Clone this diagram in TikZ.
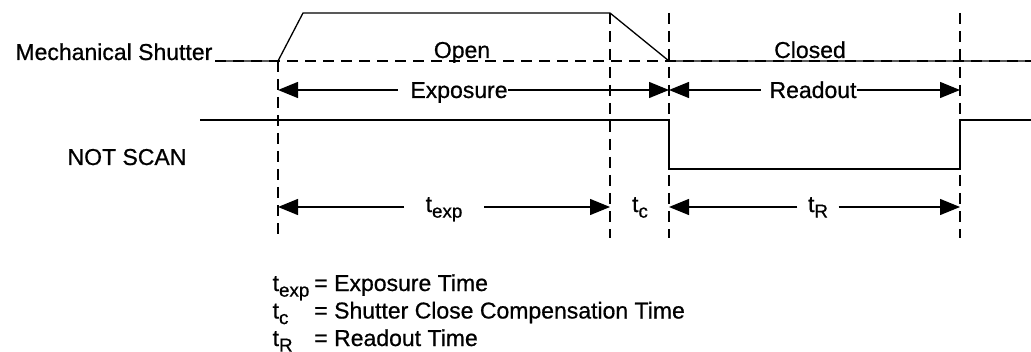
\documentclass[tikz,border=0pt]{standalone}
\usepackage{fontspec}
\setmainfont{Liberation Sans}
\newfontfamily\heavy[FakeBold=0.7]{Liberation Sans}
\usetikzlibrary{arrows.meta}
\newcommand\tsub[2]{#1\raisebox{-2.8pt}[0pt][0pt]{\fontsize{9.4}{9.4}\selectfont #2}}

\begin{document}
\begin{tikzpicture}[x=0.5pt, y=-0.5pt, line width=0.65pt,
    >={Triangle[length=10pt,width=8pt]}]
  \tikzstyle{txt}=[font=\heavy\fontsize{11.5}{13.75}\selectfont, inner sep=0pt]
  \tikzstyle{guide}=[dash pattern=on 5.5pt off 3.5pt]
  \tikzstyle{dim}=[txt, inner xsep=3pt]

  \useasboundingbox (0,0) rectangle (1031,352);

  % edges of one exposure/readout cycle
  \path
    (278, 61) coordinate (t0)
    (610, 13) coordinate (t1)
    (669, 13) coordinate (t2)
    (960, 13) coordinate (t3);
  \coordinate (row1) at (0, 90);
  \coordinate (row2) at (0, 207);

  % guide lines
  \draw[guide] (215, 61) -- (1031, 61);
  \draw[guide] (t0) -- (t0 |- 0,238);
  \foreach \t in {1,2,3}
    \draw[guide] (t\t) -- (t\t |- 0,238);

  % mechanical shutter
  \draw (215, 61) -- (t0) -- (303, 13) -- (t1) -- (t2 |- t0) -- (1031, 61);
  \node[txt, anchor=base east] (shutter) at (213, 60) {Mechanical Shutter};
  \node[txt, anchor=base] (open) at (462, 58) {Open};
  \node[txt, anchor=base] (closed) at (810, 58) {Closed};

  % NOT SCAN
  \node[txt, anchor=base] (notscan) at (127, 165) {NOT SCAN};
  \draw (200, 120) -- (t2 |- 0,120) -- (t2 |- 0,169)
    -- (t3 |- 0,169) -- (t3 |- 0,120) -- (1031, 120);

  % exposure / readout
  \node[txt, anchor=base] (expo) at (459, 98) {Exposure};
  \node[txt, anchor=base] (read) at (813, 98) {Readout};
  \draw[->] ([xshift=-6pt]expo.west |- row1) -- (t0 |- row1);
  \draw[->] (expo.east |- row1) -- (t2 |- row1);
  \draw[->] ([xshift=-4pt]read.west |- row1) -- (t2 |- row1);
  \draw[->] (read.east |- row1) -- (t3 |- row1);

  % timing
  \node[dim, anchor=base, inner xsep=10.5pt] (texp) at (444, 212) {\tsub{t}{exp}};
  \node[dim, anchor=base] (tc) at (640, 212) {\tsub{t}{c}};
  \node[dim, anchor=base, inner xsep=5pt] (tr) at (818, 212) {\tsub{t}{R}};
  \draw[->] (texp.west |- row2) -- (t0 |- row2);
  \draw[->] (texp.east |- row2) -- (t1 |- row2);
  \draw[->] (tr.west |- row2) -- (t2 |- row2);
  \draw[->] (tr.east |- row2) -- (t3 |- row2);

  % legend
  \node[txt, anchor=base west] (legend) at (272, 291) {%
    \begin{tabular}[t]{@{}l@{\hspace{2.5pt}}l@{}}
      \tsub{t}{exp} & = Exposure Time\\
      \tsub{t}{c}   & = Shutter Close Compensation Time\\
      \tsub{t}{R}   & = Readout Time
    \end{tabular}};
\end{tikzpicture}
\end{document}
